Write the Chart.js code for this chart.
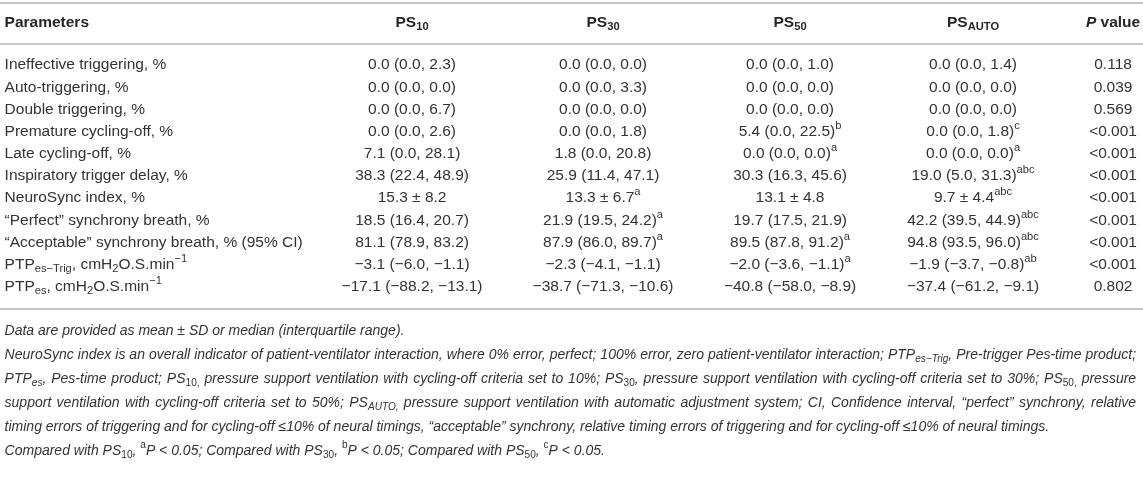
<!DOCTYPE html>
<html lang="en">
<head>
  <meta charset="UTF-8">
  <title>Patient-ventilator interaction table</title>
  <script src="https://cdn.jsdelivr.net/npm/chart.js"></script>
  <style>
    html, body { margin: 0; padding: 0; background: #fff; }
    #wrap { width: 1143px; height: 480px; }
  </style>
</head>
<body>
  <div id="wrap"><canvas id="table" width="1143" height="480"></canvas></div>

  <script>
    // table content ( _{..} subscript, ^{..} superscript, *..* italic )
    const headers = ['Parameters', 'PS_{10}', 'PS_{30}', 'PS_{50}', 'PS_{AUTO}', '*P* value'];
    const parameters = [
      'Ineffective triggering, %',
      'Auto-triggering, %',
      'Double triggering, %',
      'Premature cycling-off, %',
      'Late cycling-off, %',
      'Inspiratory trigger delay, %',
      'NeuroSync index, %',
      '“Perfect” synchrony breath, %',
      '“Acceptable” synchrony breath, % (95% CI)',
      'PTP_{es−Trig}, cmH_{2}O.S.min^{−1}',
      'PTP_{es}, cmH_{2}O.S.min^{−1}'
    ];
    const ps10 = ['0.0 (0.0, 2.3)', '0.0 (0.0, 0.0)', '0.0 (0.0, 6.7)', '0.0 (0.0, 2.6)', '7.1 (0.0, 28.1)',
      '38.3 (22.4, 48.9)', '15.3 ± 8.2', '18.5 (16.4, 20.7)', '81.1 (78.9, 83.2)', '−3.1 (−6.0, −1.1)', '−17.1 (−88.2, −13.1)'];
    const ps30 = ['0.0 (0.0, 0.0)', '0.0 (0.0, 3.3)', '0.0 (0.0, 0.0)', '0.0 (0.0, 1.8)', '1.8 (0.0, 20.8)',
      '25.9 (11.4, 47.1)', '13.3 ± 6.7^{a}', '21.9 (19.5, 24.2)^{a}', '87.9 (86.0, 89.7)^{a}', '−2.3 (−4.1, −1.1)', '−38.7 (−71.3, −10.6)'];
    const ps50 = ['0.0 (0.0, 1.0)', '0.0 (0.0, 0.0)', '0.0 (0.0, 0.0)', '5.4 (0.0, 22.5)^{b}', '0.0 (0.0, 0.0)^{a}',
      '30.3 (16.3, 45.6)', '13.1 ± 4.8', '19.7 (17.5, 21.9)', '89.5 (87.8, 91.2)^{a}', '−2.0 (−3.6, −1.1)^{a}', '−40.8 (−58.0, −8.9)'];
    const psAuto = ['0.0 (0.0, 1.4)', '0.0 (0.0, 0.0)', '0.0 (0.0, 0.0)', '0.0 (0.0, 1.8)^{c}', '0.0 (0.0, 0.0)^{a}',
      '19.0 (5.0, 31.3)^{abc}', '9.7 ± 4.4^{abc}', '42.2 (39.5, 44.9)^{abc}', '94.8 (93.5, 96.0)^{abc}', '−1.9 (−3.7, −0.8)^{ab}', '−37.4 (−61.2, −9.1)'];
    const pValues = ['0.118', '0.039', '0.569', '<0.001', '<0.001', '<0.001', '<0.001', '<0.001', '<0.001', '<0.001', '0.802'];

    const notes = [
      'Data are provided as mean ± SD or median (interquartile range).',
      'NeuroSync index is an overall indicator of patient-ventilator interaction, where 0% error, perfect; 100% error, zero patient-ventilator interaction; PTP_{es−Trig}, Pre-trigger Pes-time product;',
      'PTP_{es}, Pes-time product; PS*_{10,}* pressure support ventilation with cycling-off criteria set to 10%; PS*_{30}*, pressure support ventilation with cycling-off criteria set to 30%; PS*_{50,}* pressure',
      'support ventilation with cycling-off criteria set to 50%; PS_{AUTO,} pressure support ventilation with automatic adjustment system; CI, Confidence interval, “perfect” synchrony, relative',
      'timing errors of triggering and for cycling-off ≤10% of neural timings, “acceptable” synchrony, relative timing errors of triggering and for cycling-off ≤10% of neural timings.',
      'Compared with PS*_{10}*, *^{a}*P < 0.05; Compared with PS*_{30}*, *^{b}*P < 0.05; Compared with PS*_{50}*, *^{c}*P < 0.05.'
    ];
    const justified = [false, true, true, true, false, false];

    // layout / style
    const colPos = [0.004, 0.3605, 0.5276, 0.6912, 0.8513, 0.9738];
    const cellCols = [ps10, ps30, ps50, psAuto, pValues];
    const FONT = '"Liberation Sans", Arial, sans-serif';
    const SIZE = 15.5;
    const NOTE_SIZE = 14;
    const NOTE_PITCH = 24;
    const TEXT = '#333333';
    const RULE = '#c8c8c8';

    function parseRich(str) {
      const segs = [];
      let italic = false, buf = '', i = 0;
      const push = () => { if (buf) segs.push({ t: buf, mode: 'n', italic }); buf = ''; };
      while (i < str.length) {
        const ch = str[i];
        if ((ch === '_' || ch === '^') && str[i + 1] === '{') {
          push();
          const end = str.indexOf('}', i);
          segs.push({ t: str.slice(i + 2, end), mode: ch === '_' ? 'sub' : 'sup', italic });
          i = end + 1;
          continue;
        }
        if (ch === '*') { push(); italic = !italic; i++; continue; }
        buf += ch;
        i++;
      }
      push();
      return segs;
    }

    // split into pieces, spaces kept apart so lines can be justified
    function pieces(ctx, str, size, bold, baseItalic) {
      const out = [];
      parseRich(str).forEach(s => {
        const small = s.mode !== 'n';
        const sz = small ? size * 0.72 : size;
        const it = baseItalic ? !s.italic : s.italic;
        const font = (it ? 'italic ' : '') + (bold ? 'bold ' : '') + sz + 'px ' + FONT;
        const dy = s.mode === 'sub' ? size * 0.28 : s.mode === 'sup' ? -size * 0.38 : 0;
        s.t.split(/( )/).forEach(t => {
          if (!t) return;
          ctx.font = font;
          out.push({ t, font, dy, w: ctx.measureText(t).width, space: t === ' ' });
        });
      });
      return out;
    }

    function drawRich(ctx, str, x, y, o) {
      const ps = pieces(ctx, str, o.size, o.bold, o.italic);
      const natural = ps.reduce((a, p) => a + p.w, 0);
      let extra = 0, squeeze = 1;
      if (o.justify) {
        const gaps = ps.filter(p => p.space).length;
        if (natural > o.justify) squeeze = o.justify / natural;
        else if (gaps) extra = (o.justify - natural) / gaps;
      }
      let cx = o.align === 'center' ? x - natural / 2 : x;
      ctx.save();
      ctx.fillStyle = o.color || TEXT;
      ctx.textBaseline = 'middle';
      ctx.textAlign = 'left';
      if (squeeze < 1) {
        ctx.translate(cx, 0);
        ctx.scale(squeeze, 1);
        cx = 0;
      }
      ps.forEach(p => {
        ctx.font = p.font;
        if (!p.space) ctx.fillText(p.t, cx, y + p.dy);
        cx += p.w + (p.space ? extra : 0);
      });
      ctx.restore();
    }

    const tablePlugin = {
      id: 'tableCells',
      afterDraw(chart) {
        const { ctx, chartArea, scales } = chart;
        const x = scales.x, y = scales.y;
        const rule = yy => {
          ctx.save();
          ctx.strokeStyle = RULE;
          ctx.lineWidth = 2;
          ctx.beginPath();
          ctx.moveTo(chartArea.left, yy);
          ctx.lineTo(chartArea.right, yy);
          ctx.stroke();
          ctx.restore();
        };
        const top = chartArea.top;
        rule(top - 51);
        rule(top - 10);
        rule(chartArea.bottom + 11);

        // header row
        headers.forEach((h, c) => {
          drawRich(ctx, h, x.getPixelForValue(colPos[c]), top - 31,
            { size: SIZE, bold: true, align: c === 0 ? 'left' : 'center', color: '#262626' });
        });

        // body
        parameters.forEach((p, r) => {
          const yy = y.getPixelForValue(r);
          drawRich(ctx, p, x.getPixelForValue(colPos[0]), yy, { size: SIZE, align: 'left' });
          cellCols.forEach((col, c) => {
            drawRich(ctx, col[r], x.getPixelForValue(colPos[c + 1]), yy, { size: SIZE, align: 'center' });
          });
        });

        // footnotes
        const left = x.getPixelForValue(colPos[0]);
        const width = x.getPixelForValue(0.994) - left;
        notes.forEach((n, i) => {
          drawRich(ctx, n, left, chartArea.bottom + 33 + i * NOTE_PITCH,
            { size: NOTE_SIZE, italic: true, align: 'left', justify: justified[i] ? width : 0 });
        });
      }
    };

    new Chart(document.getElementById('table'), {
      type: 'scatter',
      data: {
        labels: parameters,
        datasets: [{ data: [] }]
      },
      options: {
        responsive: false,
        animation: false,
        events: [],
        layout: { padding: { top: 54, bottom: 182, left: 0, right: 0 } },
        plugins: { legend: { display: false }, tooltip: { enabled: false } },
        scales: {
          x: { type: 'linear', min: 0, max: 1, display: false },
          y: { type: 'category', labels: parameters, offset: true, display: false }
        }
      },
      plugins: [tablePlugin]
    });
  </script>
</body>
</html>
